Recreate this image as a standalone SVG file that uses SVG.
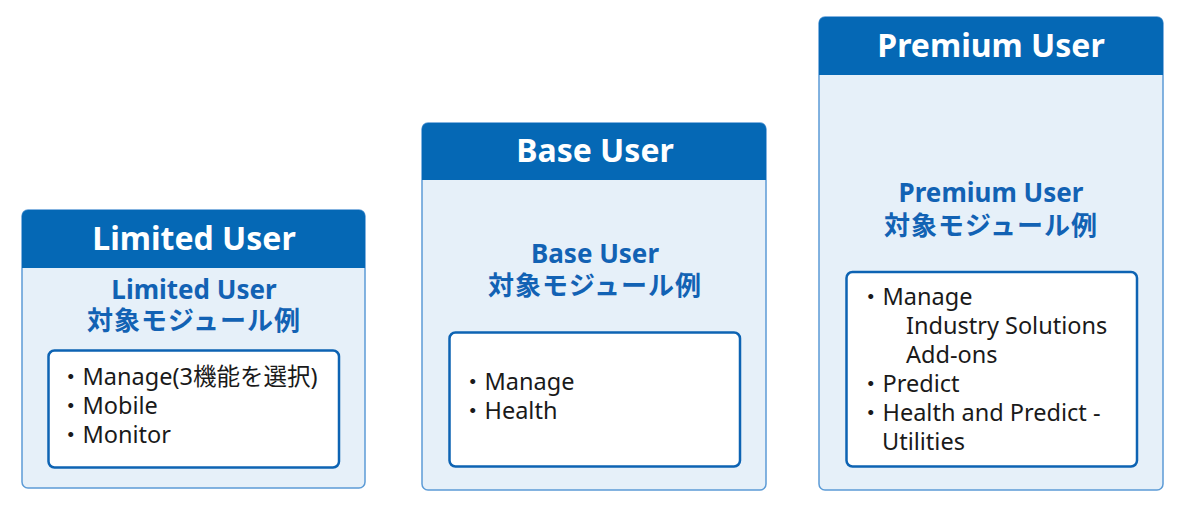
<svg xmlns="http://www.w3.org/2000/svg" width="1177" height="509" viewBox="0 0 1177 509">
  <defs>
    <style>
      .card { fill: #e6f0f9; stroke: #5c9bd6; stroke-width: 1.5; }
      .head { fill: #0568b5; }
      .inner { fill: #ffffff; stroke: #0d63b3; stroke-width: 2.5; }
      .title { font-family: "Noto Sans", "Noto Sans CJK JP", sans-serif; font-weight: 700; font-size: 32px; fill: #ffffff; text-anchor: middle; }
      .sub { font-family: "Noto Sans", "Noto Sans CJK JP", sans-serif; font-weight: 700; font-size: 26px; fill: #1262b4; text-anchor: middle; }
      .subjp { font-family: "Noto Sans CJK JP", sans-serif; font-weight: 700; font-size: 26px; fill: #1262b4; text-anchor: middle; letter-spacing: 1px; }
      .item { font-family: "Noto Sans", "Noto Sans CJK JP", sans-serif; font-size: 23.5px; fill: #1a1a1a; }
    </style>
    <clipPath id="c1"><rect x="22" y="210" width="343" height="278" rx="6"/></clipPath>
    <clipPath id="c2"><rect x="422" y="123" width="344" height="367" rx="6"/></clipPath>
    <clipPath id="c3"><rect x="819" y="17" width="344" height="473" rx="6"/></clipPath>
  </defs>
  <rect width="1177" height="509" fill="#ffffff"/>

  <g id="limited-user">
    <rect class="card" x="22" y="210" width="343" height="278" rx="6"/>
    <rect class="head" x="22" y="210" width="343" height="58" clip-path="url(#c1)"/>
    <text class="title" x="194" y="250">Limited User</text>
    <text class="sub" x="194" y="299">Limited User</text>
    <text class="subjp" x="194" y="330">対象モジュール例</text>
    <rect class="inner" x="48.5" y="350.5" width="290.5" height="117" rx="6"/>
    <text class="item" x="59" y="385">・Manage(3機能を選択)</text>
    <text class="item" x="59" y="414">・Mobile</text>
    <text class="item" x="59" y="443">・Monitor</text>
  </g>

  <g id="base-user">
    <rect class="card" x="422" y="123" width="344" height="367" rx="6"/>
    <rect class="head" x="422" y="123" width="344" height="57" clip-path="url(#c2)"/>
    <text class="title" x="595" y="162">Base User</text>
    <text class="sub" x="595" y="263">Base User</text>
    <text class="subjp" x="595" y="295">対象モジュール例</text>
    <rect class="inner" x="449.5" y="332.5" width="290.5" height="134" rx="6"/>
    <text class="item" x="461" y="390">・Manage</text>
    <text class="item" x="461" y="419">・Health</text>
  </g>

  <g id="premium-user">
    <rect class="card" x="819" y="17" width="344" height="473" rx="6"/>
    <rect class="head" x="819" y="17" width="344" height="58" clip-path="url(#c3)"/>
    <text class="title" x="991" y="57">Premium User</text>
    <text class="sub" x="991" y="202">Premium User</text>
    <text class="subjp" x="991" y="235">対象モジュール例</text>
    <rect class="inner" x="846.5" y="272" width="290.5" height="194.5" rx="6"/>
    <text class="item" x="859" y="305">・Manage</text>
    <text class="item" x="906" y="334">Industry Solutions</text>
    <text class="item" x="906" y="363">Add-ons</text>
    <text class="item" x="859" y="392">・Predict</text>
    <text class="item" x="859" y="421">・Health and Predict -</text>
    <text class="item" x="882" y="450">Utilities</text>
  </g>

  <g id="connectors"></g>
</svg>
